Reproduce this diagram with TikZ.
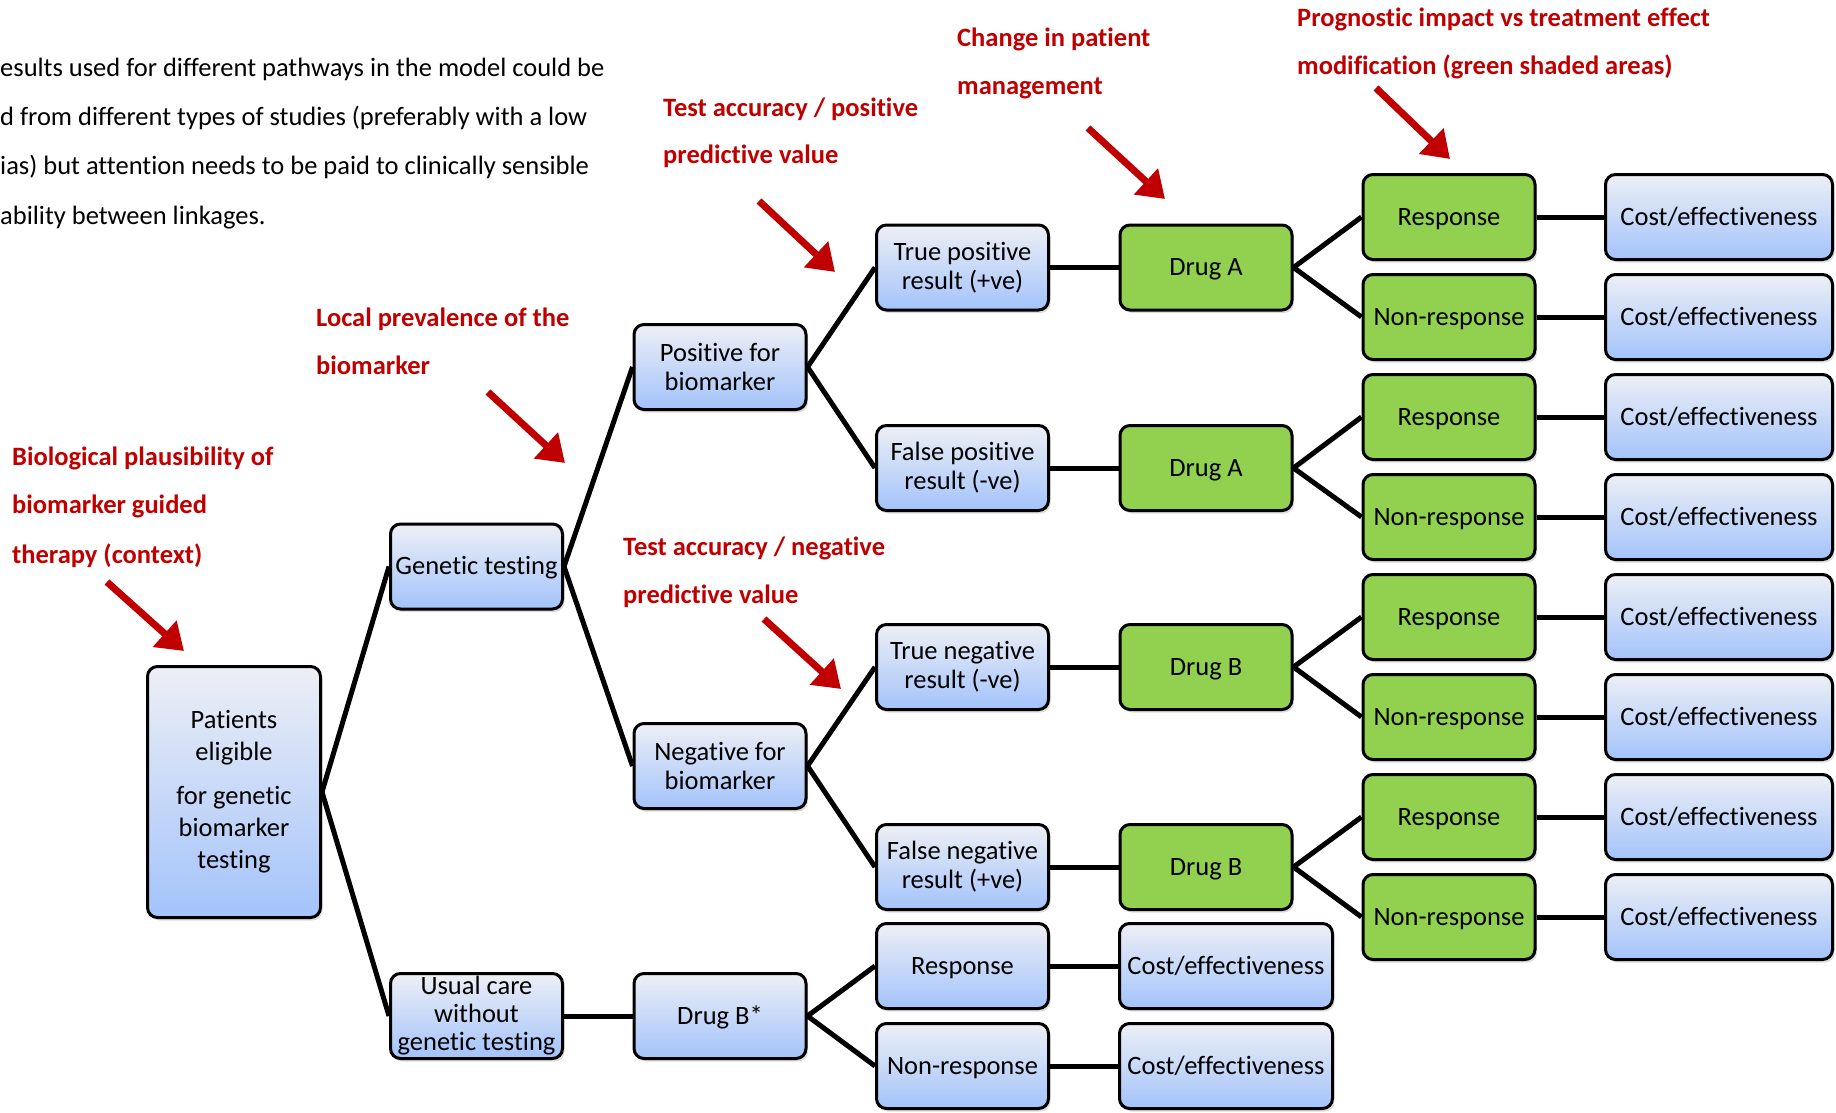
\documentclass[tikz,border=0pt]{standalone}
\usepackage{fontspec}
\setmainfont{Carlito}[Ligatures=NoCommon]
\usetikzlibrary{shadows,arrows.meta}

\definecolor{annot}{RGB}{192,0,0}
\definecolor{boxtop}{RGB}{237,239,245}
\definecolor{boxbot}{RGB}{163,195,251}
\definecolor{drug}{RGB}{146,208,80}

\tikzset{
  basebox/.style={draw=black, line width=3pt, rounded corners=10pt,
    minimum width=172pt, minimum height=85pt, inner sep=0pt, align=center,
    font=\fontsize{26.5}{29}\selectfont,
    drop shadow={opacity=0.28, shadow xshift=2pt, shadow yshift=-3pt}},
  oneline/.style={text height=20pt, text depth=4pt},
  bluebox/.style={basebox, top color=boxtop, bottom color=boxbot},
  greenbox/.style={basebox, fill=drug, oneline},
  costbox/.style={bluebox, oneline, minimum width=227pt},
  link/.style={line width=5pt},
  note/.style={text=annot, font=\bfseries\fontsize{26.5}{30}\selectfont,
    anchor=base west, inner sep=0pt},
  para/.style={font=\fontsize{26.5}{30}\selectfont, anchor=base west, inner sep=0pt},
  pointer/.style={draw=annot, line width=7pt, -{Triangle[length=26pt,width=34pt]}},
}

\begin{document}
\begin{tikzpicture}[x=1pt, y=-1pt]
\useasboundingbox (0,0) rectangle (1836,1113);

% explanatory paragraph (top left)
\node[para] (pa1) at (0,77)  {esults used for different pathways in the model could be};
\node[para] (pa2) at (0,126) {d from different types of studies (preferably with a low};
\node[para] (pa3) at (0,175) {ias) but attention needs to be paid to clinically sensible};
\node[para] (pa4) at (0,224) {ability between linkages.};

% decision tree: root and first split
\node[bluebox, minimum width=173pt, minimum height=251pt,
      font=\fontsize{26.5}{32}\selectfont] (pat) at (234,792)
      {Patients\\eligible\\[12pt]for genetic\\biomarker\\testing};
\node[bluebox, oneline] (gen) at (476.5,566.5) {Genetic testing};
\node[bluebox, font=\fontsize{26.5}{28}\selectfont] (usual) at (476.5,1016)
      {Usual care\\without\\genetic testing};

% test result
\node[bluebox] (pos) at (720,367) {Positive for\\biomarker};
\node[bluebox] (neg) at (720,766) {Negative for\\biomarker};
\node[bluebox, oneline] (dbs) at (720,1016) {Drug B*};

% test accuracy
\node[bluebox] (tp) at (962.5,267.5) {True positive\\result (+ve)};
\node[bluebox] (fp) at (962.5,468)   {False positive\\result (-ve)};
\node[bluebox] (tn) at (962.5,667)   {True negative\\result (-ve)};
\node[bluebox] (fn) at (962.5,867)   {False negative\\result (+ve)};
\node[bluebox, oneline] (ur) at (962.5,966)   {Response};
\node[bluebox, oneline] (un) at (962.5,1066)  {Non-response};

% treatment
\node[greenbox] (da1) at (1206,267.5) {Drug A};
\node[greenbox] (da2) at (1206,468)   {Drug A};
\node[greenbox] (db1) at (1206,667)   {Drug B};
\node[greenbox] (db2) at (1206,867)   {Drug B};
\node[costbox, minimum width=213pt] (urc) at (1226,966)  {Cost/effectiveness};
\node[costbox, minimum width=213pt] (unc) at (1226,1066) {Cost/effectiveness};

% outcomes and their costs
\foreach \i/\y in {1/217,2/417,3/617,4/817}{
  \node[greenbox] (r\i) at (1449,\y) {Response};
  \node[costbox] (rc\i) at (1719,\y) {Cost/effectiveness};
}
\foreach \i/\y in {1/317,2/517,3/717,4/917}{
  \node[greenbox] (n\i) at (1449,\y) {Non-response};
  \node[costbox] (nc\i) at (1719,\y) {Cost/effectiveness};
}

% branches
\draw[link] (pat.east) -- (gen.west);
\draw[link] (pat.east) -- (usual.west);
\draw[link] (gen.east) -- (pos.west);
\draw[link] (gen.east) -- (neg.west);
\draw[link] (usual.east) -- (dbs.west);
\draw[link] (pos.east) -- (tp.west);
\draw[link] (pos.east) -- (fp.west);
\draw[link] (neg.east) -- (tn.west);
\draw[link] (neg.east) -- (fn.west);
\draw[link] (dbs.east) -- (ur.west);
\draw[link] (dbs.east) -- (un.west);
\draw[link] (tp.east) -- (da1.west);
\draw[link] (fp.east) -- (da2.west);
\draw[link] (tn.east) -- (db1.west);
\draw[link] (fn.east) -- (db2.west);
\draw[link] (ur.east) -- (urc.west);
\draw[link] (un.east) -- (unc.west);
\draw[link] (da1.east) -- (r1.west);  \draw[link] (da1.east) -- (n1.west);
\draw[link] (da2.east) -- (r2.west);  \draw[link] (da2.east) -- (n2.west);
\draw[link] (db1.east) -- (r3.west);  \draw[link] (db1.east) -- (n3.west);
\draw[link] (db2.east) -- (r4.west);  \draw[link] (db2.east) -- (n4.west);
\foreach \i in {1,...,4}{
  \draw[link] (r\i.east) -- (rc\i.west);
  \draw[link] (n\i.east) -- (nc\i.west);
}

% annotations
\node[note] (bio1) at (12,465) {Biological plausibility of};
\node[note] (bio2) at (12,513) {biomarker guided};
\node[note] (bio3) at (12,563) {therapy (context)};
\node[note] (loc1) at (316,326) {Local prevalence of the};
\node[note] (loc2) at (316,374) {biomarker};
\node[note] (tpa1) at (663,117) {Test accuracy / positive};
\node[note] (tpa2) at (663,164) {predictive value};
\node[note] (tna1) at (623,555) {Test accuracy / negative};
\node[note] (tna2) at (623,603) {predictive value};
\node[note] (chg1) at (957,47) {Change in patient};
\node[note] (chg2) at (957,95) {management};
\node[note] (prg1) at (1297,27) {Prognostic impact vs treatment effect};
\node[note] (prg2) at (1297,75) {modification (green shaded areas)};

% annotation pointers
\coordinate (bioT) at (107,582);  \coordinate (bioH) at (184,651);
\coordinate (locT) at (488,392);  \coordinate (locH) at (565,463);
\coordinate (tpaT) at (759,201);  \coordinate (tpaH) at (835,272);
\coordinate (tnaT) at (764,619);  \coordinate (tnaH) at (841,689);
\coordinate (chgT) at (1088,128); \coordinate (chgH) at (1165,199);
\coordinate (prgT) at (1376,88);  \coordinate (prgH) at (1450,159);
\draw[pointer] (bioT) -- (bioH);
\draw[pointer] (locT) -- (locH);
\draw[pointer] (tpaT) -- (tpaH);
\draw[pointer] (tnaT) -- (tnaH);
\draw[pointer] (chgT) -- (chgH);
\draw[pointer] (prgT) -- (prgH);
\end{tikzpicture}
\end{document}
